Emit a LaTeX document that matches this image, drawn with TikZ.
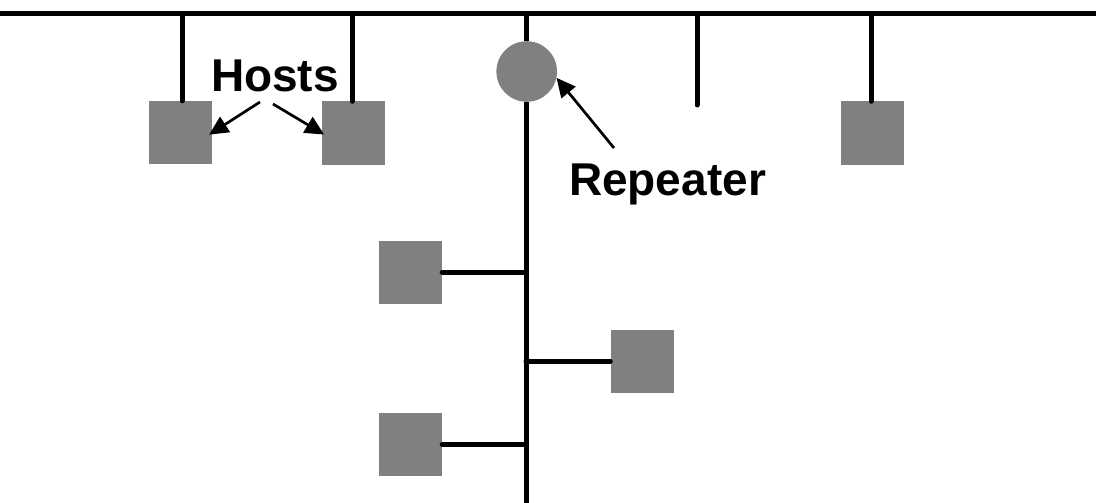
\documentclass[tikz,border=0pt]{standalone}
\usepackage{fontspec}
\setmainfont{Liberation Sans}
\usetikzlibrary{arrows.meta}
\definecolor{hostgray}{HTML}{808080}
\begin{document}
\begin{tikzpicture}[x=1pt,y=-1pt,
  wire/.style={line width=5pt, line cap=round},
  hostbox/.style={rectangle, fill=hostgray, draw=none, minimum size=63pt, inner sep=0pt},
  repnode/.style={circle, fill=hostgray, draw=none, minimum size=60.6pt, inner sep=0pt},
  lbl/.style={font=\bfseries\fontsize{46}{50}\selectfont, anchor=base, inner sep=0pt},
  pointer/.style={line width=2.7pt, -{Triangle[length=19pt,width=18pt]}}
]
\useasboundingbox (0,0) rectangle (1096,503);
% hosts
\node[hostbox] (h1) at (180.8,132.5) {};
\node[hostbox] (h2) at (353.3,133) {};
\node[hostbox] (h3) at (872,133) {};
\node[hostbox] (h4) at (410.5,272) {};
\node[hostbox] (h5) at (642,361) {};
\node[hostbox] (h6) at (410.5,444.5) {};
\node[repnode] (rep) at (526.7,71.5) {};
% bus
\coordinate (busL) at (0,13.5);
\coordinate (busR) at (1096,13.5);
\coordinate (busM) at (526,13.5);
\coordinate (d1) at (182,13.5);
\coordinate (d2) at (352,13.5);
\coordinate (d4) at (697,13.5);
\coordinate (d4e) at (697,105);
\coordinate (d5) at (871,13.5);
\coordinate (vb) at (526,503);
\draw[wire, line cap=butt] (busL) -- (busR);
\draw[wire] (d1) -- (d1 |- h1.north);
\draw[wire] (d2) -- (d2 |- h2.north);
\draw[wire] (d4) -- (d4e);
\draw[wire] (d5) -- (d5 |- h3.north);
\draw[wire, line cap=butt] (busM) -- (busM |- rep.north);
\draw[wire, line cap=butt] (vb |- rep.south) -- (vb);
\draw[wire] (h4.east) -- (h4.east -| vb);
\draw[wire] (h5.west) -- (h5.west -| vb);
\draw[wire] (h6.east) -- (h6.east -| vb);
% labels
\node[lbl] (hosts) at (275,92) {Hosts};
\node[lbl] (replbl) at (667.5,195) {Repeater};
\coordinate (ht1) at (260,102);
\coordinate (ht2) at (273,104);
\coordinate (rt) at (614,148);
\draw[pointer, shorten >=-4pt] (ht1) -- (h1.east);
\draw[pointer, shorten >=-3pt] (ht2) -- (h2.west);
\draw[pointer] (rt) -- (rep.-12);
\end{tikzpicture}
\end{document}
